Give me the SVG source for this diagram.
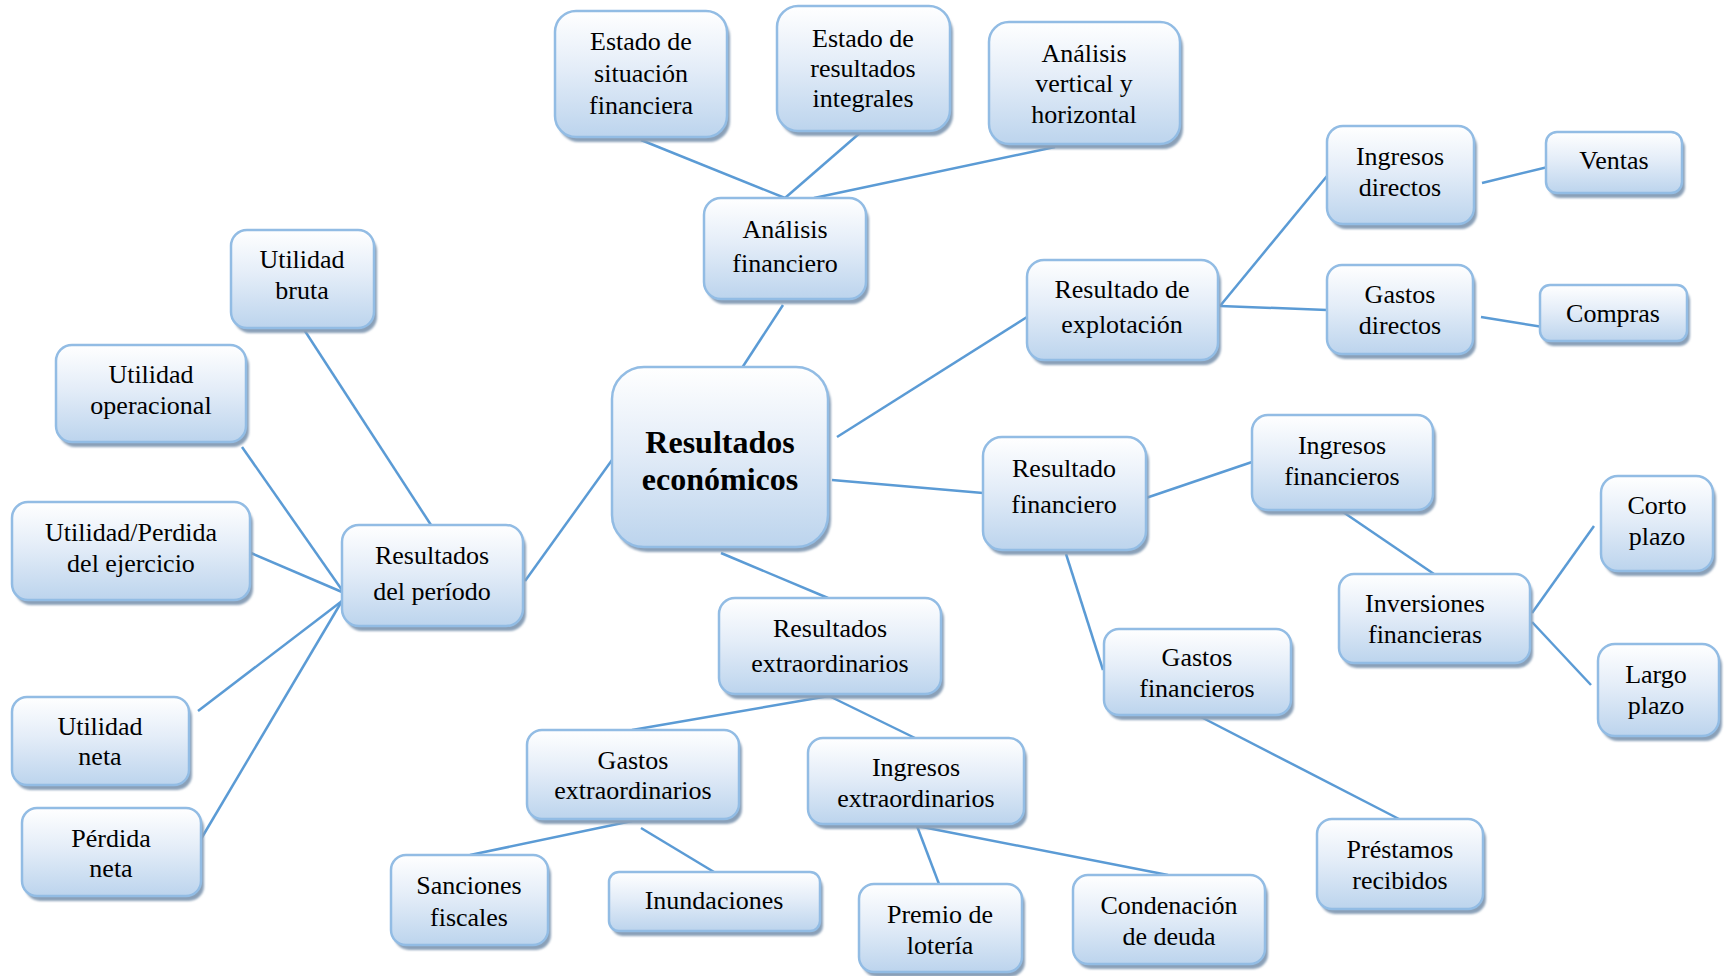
<svg xmlns="http://www.w3.org/2000/svg" width="1726" height="976" viewBox="0 0 1726 976">
  <defs>
    <linearGradient id="boxFill" x1="0" y1="0" x2="0" y2="1">
      <stop offset="0" stop-color="#ffffff"/>
      <stop offset="0.45" stop-color="#e4edf8"/>
      <stop offset="1" stop-color="#bcd4ed"/>
    </linearGradient>
    <filter id="soft" x="-5%" y="-5%" width="110%" height="110%">
      <feGaussianBlur stdDeviation="0.8"/>
    </filter>
  </defs>
  <style>
    .shadow { fill: #8aa0b8; filter: url(#soft); }
    .box { fill: url(#boxFill); stroke: #92bce4; stroke-width: 2.5; }
    .label { font-family: "Liberation Serif", "Times New Roman", serif; font-size: 26px; fill: #000000; text-anchor: middle; }
    .title { font-family: "Liberation Serif", "Times New Roman", serif; font-size: 32px; font-weight: bold; fill: #000000; text-anchor: middle; }
    .link { stroke: #5b9bd5; stroke-width: 2.5; fill: none; }
  </style>
  <rect width="1726" height="976" fill="#ffffff"/>

  <!-- connectors -->
  <g id="connectors">
    <line class="link" x1="641" y1="140" x2="785" y2="198"/>
    <line class="link" x1="861" y1="132" x2="785" y2="198"/>
    <line class="link" x1="1055" y1="147" x2="814" y2="198"/>
    <line class="link" x1="783" y1="305" x2="740" y2="371"/>
    <line class="link" x1="837" y1="437" x2="1027" y2="317"/>
    <line class="link" x1="832" y1="480" x2="983" y2="493"/>
    <line class="link" x1="721" y1="553" x2="828" y2="598"/>
    <line class="link" x1="612" y1="460" x2="525" y2="581"/>
    <line class="link" x1="431" y1="525" x2="303" y2="328"/>
    <line class="link" x1="242" y1="447" x2="342" y2="590"/>
    <line class="link" x1="251" y1="553" x2="342" y2="592"/>
    <line class="link" x1="198" y1="711" x2="342" y2="601"/>
    <line class="link" x1="201" y1="839" x2="342" y2="601"/>
    <line class="link" x1="1220" y1="306" x2="1327" y2="176"/>
    <line class="link" x1="1220" y1="306" x2="1327" y2="310"/>
    <line class="link" x1="1482" y1="183" x2="1552" y2="166"/>
    <line class="link" x1="1481" y1="317" x2="1543" y2="327"/>
    <line class="link" x1="1143" y1="499" x2="1252" y2="462"/>
    <line class="link" x1="1343" y1="512" x2="1434" y2="574"/>
    <line class="link" x1="1532" y1="613" x2="1594" y2="526"/>
    <line class="link" x1="1532" y1="622" x2="1591" y2="685"/>
    <line class="link" x1="1066" y1="554" x2="1103" y2="670"/>
    <line class="link" x1="1199" y1="716" x2="1399" y2="819"/>
    <line class="link" x1="829" y1="696" x2="632" y2="730"/>
    <line class="link" x1="829" y1="696" x2="915" y2="738"/>
    <line class="link" x1="632" y1="821" x2="470" y2="855"/>
    <line class="link" x1="641" y1="828" x2="714" y2="872"/>
    <line class="link" x1="917" y1="826" x2="939" y2="884"/>
    <line class="link" x1="917" y1="826" x2="1168" y2="875"/>
  </g>

  <!-- nodes -->
  <g id="estado-situacion">
    <rect class="shadow" x="558" y="16" width="172" height="126" rx="21"/>
    <rect class="box" x="555" y="11" width="172" height="126" rx="21"/>
    <text class="label"><tspan x="641" y="50">Estado de</tspan><tspan x="641" y="82">situación</tspan><tspan x="641" y="114">financiera</tspan></text>
  </g>
  <g id="estado-resultados">
    <rect class="shadow" x="780" y="11" width="173" height="125" rx="21"/>
    <rect class="box" x="777" y="6" width="173" height="125" rx="21"/>
    <text class="label"><tspan x="863" y="47">Estado de</tspan><tspan x="863" y="77">resultados</tspan><tspan x="863" y="107">integrales</tspan></text>
  </g>
  <g id="analisis-vertical">
    <rect class="shadow" x="992" y="27" width="191" height="122" rx="20"/>
    <rect class="box" x="989" y="22" width="191" height="122" rx="20"/>
    <text class="label"><tspan x="1084" y="62">Análisis</tspan><tspan x="1084" y="92">vertical y</tspan><tspan x="1084" y="123">horizontal</tspan></text>
  </g>
  <g id="analisis-financiero">
    <rect class="shadow" x="707" y="203" width="162" height="101" rx="17"/>
    <rect class="box" x="704" y="198" width="162" height="101" rx="17"/>
    <text class="label"><tspan x="785" y="238">Análisis</tspan><tspan x="785" y="272">financiero</tspan></text>
  </g>
  <g id="utilidad-bruta">
    <rect class="shadow" x="234" y="235" width="143" height="98" rx="16"/>
    <rect class="box" x="231" y="230" width="143" height="98" rx="16"/>
    <text class="label"><tspan x="302" y="268">Utilidad</tspan><tspan x="302" y="299">bruta</tspan></text>
  </g>
  <g id="utilidad-operacional">
    <rect class="shadow" x="59" y="350" width="190" height="97" rx="16"/>
    <rect class="box" x="56" y="345" width="190" height="97" rx="16"/>
    <text class="label"><tspan x="151" y="383">Utilidad</tspan><tspan x="151" y="414">operacional</tspan></text>
  </g>
  <g id="utilidad-perdida-ejercicio">
    <rect class="shadow" x="15" y="507" width="238" height="98" rx="16"/>
    <rect class="box" x="12" y="502" width="238" height="98" rx="16"/>
    <text class="label"><tspan x="131" y="541">Utilidad/Perdida</tspan><tspan x="131" y="572">del ejercicio</tspan></text>
  </g>
  <g id="utilidad-neta">
    <rect class="shadow" x="15" y="702" width="177" height="88" rx="15"/>
    <rect class="box" x="12" y="697" width="177" height="88" rx="15"/>
    <text class="label"><tspan x="100" y="735">Utilidad</tspan><tspan x="100" y="765">neta</tspan></text>
  </g>
  <g id="perdida-neta">
    <rect class="shadow" x="25" y="813" width="179" height="88" rx="15"/>
    <rect class="box" x="22" y="808" width="179" height="88" rx="15"/>
    <text class="label"><tspan x="111" y="847">Pérdida</tspan><tspan x="111" y="877">neta</tspan></text>
  </g>
  <g id="resultados-periodo">
    <rect class="shadow" x="345" y="530" width="181" height="101" rx="17"/>
    <rect class="box" x="342" y="525" width="181" height="101" rx="17"/>
    <text class="label"><tspan x="432" y="564">Resultados</tspan><tspan x="432" y="600">del período</tspan></text>
  </g>
  <g id="resultados-economicos">
    <rect class="shadow" x="615" y="372" width="216" height="180" rx="32"/>
    <rect class="box" x="612" y="367" width="216" height="180" rx="32"/>
    <text class="title"><tspan x="720" y="453">Resultados</tspan><tspan x="720" y="490">económicos</tspan></text>
  </g>
  <g id="resultado-explotacion">
    <rect class="shadow" x="1030" y="265" width="191" height="100" rx="17"/>
    <rect class="box" x="1027" y="260" width="191" height="100" rx="17"/>
    <text class="label"><tspan x="1122" y="298">Resultado de</tspan><tspan x="1122" y="333">explotación</tspan></text>
  </g>
  <g id="ingresos-directos">
    <rect class="shadow" x="1330" y="131" width="147" height="98" rx="16"/>
    <rect class="box" x="1327" y="126" width="147" height="98" rx="16"/>
    <text class="label"><tspan x="1400" y="165">Ingresos</tspan><tspan x="1400" y="196">directos</tspan></text>
  </g>
  <g id="ventas">
    <rect class="shadow" x="1549" y="137" width="136" height="61" rx="11"/>
    <rect class="box" x="1546" y="132" width="136" height="61" rx="11"/>
    <text class="label"><tspan x="1614" y="169">Ventas</tspan></text>
  </g>
  <g id="gastos-directos">
    <rect class="shadow" x="1330" y="270" width="146" height="89" rx="15"/>
    <rect class="box" x="1327" y="265" width="146" height="89" rx="15"/>
    <text class="label"><tspan x="1400" y="303">Gastos</tspan><tspan x="1400" y="334">directos</tspan></text>
  </g>
  <g id="compras">
    <rect class="shadow" x="1543" y="290" width="147" height="56" rx="10"/>
    <rect class="box" x="1540" y="285" width="147" height="56" rx="10"/>
    <text class="label"><tspan x="1613" y="322">Compras</tspan></text>
  </g>
  <g id="resultado-financiero">
    <rect class="shadow" x="986" y="442" width="163" height="113" rx="19"/>
    <rect class="box" x="983" y="437" width="163" height="113" rx="19"/>
    <text class="label"><tspan x="1064" y="477">Resultado</tspan><tspan x="1064" y="513">financiero</tspan></text>
  </g>
  <g id="ingresos-financieros">
    <rect class="shadow" x="1255" y="420" width="181" height="95" rx="16"/>
    <rect class="box" x="1252" y="415" width="181" height="95" rx="16"/>
    <text class="label"><tspan x="1342" y="454">Ingresos</tspan><tspan x="1342" y="485">financieros</tspan></text>
  </g>
  <g id="inversiones-financieras">
    <rect class="shadow" x="1342" y="579" width="191" height="89" rx="15"/>
    <rect class="box" x="1339" y="574" width="191" height="89" rx="15"/>
    <text class="label"><tspan x="1425" y="612">Inversiones</tspan><tspan x="1425" y="643">financieras</tspan></text>
  </g>
  <g id="corto-plazo">
    <rect class="shadow" x="1604" y="481" width="112" height="95" rx="17"/>
    <rect class="box" x="1601" y="476" width="112" height="95" rx="17"/>
    <text class="label"><tspan x="1657" y="514">Corto</tspan><tspan x="1657" y="545">plazo</tspan></text>
  </g>
  <g id="largo-plazo">
    <rect class="shadow" x="1601" y="649" width="121" height="92" rx="17"/>
    <rect class="box" x="1598" y="644" width="121" height="92" rx="17"/>
    <text class="label"><tspan x="1656" y="683">Largo</tspan><tspan x="1656" y="714">plazo</tspan></text>
  </g>
  <g id="gastos-financieros">
    <rect class="shadow" x="1107" y="634" width="187" height="86" rx="15"/>
    <rect class="box" x="1104" y="629" width="187" height="86" rx="15"/>
    <text class="label"><tspan x="1197" y="666">Gastos</tspan><tspan x="1197" y="697">financieros</tspan></text>
  </g>
  <g id="prestamos-recibidos">
    <rect class="shadow" x="1320" y="824" width="166" height="90" rx="15"/>
    <rect class="box" x="1317" y="819" width="166" height="90" rx="15"/>
    <text class="label"><tspan x="1400" y="858">Préstamos</tspan><tspan x="1400" y="889">recibidos</tspan></text>
  </g>
  <g id="resultados-extraordinarios">
    <rect class="shadow" x="722" y="603" width="222" height="96" rx="16"/>
    <rect class="box" x="719" y="598" width="222" height="96" rx="16"/>
    <text class="label"><tspan x="830" y="637">Resultados</tspan><tspan x="830" y="672">extraordinarios</tspan></text>
  </g>
  <g id="gastos-extraordinarios">
    <rect class="shadow" x="530" y="735" width="212" height="89" rx="15"/>
    <rect class="box" x="527" y="730" width="212" height="89" rx="15"/>
    <text class="label"><tspan x="633" y="769">Gastos</tspan><tspan x="633" y="799">extraordinarios</tspan></text>
  </g>
  <g id="ingresos-extraordinarios">
    <rect class="shadow" x="811" y="743" width="216" height="86" rx="15"/>
    <rect class="box" x="808" y="738" width="216" height="86" rx="15"/>
    <text class="label"><tspan x="916" y="776">Ingresos</tspan><tspan x="916" y="807">extraordinarios</tspan></text>
  </g>
  <g id="sanciones-fiscales">
    <rect class="shadow" x="394" y="860" width="157" height="90" rx="15"/>
    <rect class="box" x="391" y="855" width="157" height="90" rx="15"/>
    <text class="label"><tspan x="469" y="894">Sanciones</tspan><tspan x="469" y="926">fiscales</tspan></text>
  </g>
  <g id="inundaciones">
    <rect class="shadow" x="612" y="877" width="211" height="59" rx="10"/>
    <rect class="box" x="609" y="872" width="211" height="59" rx="10"/>
    <text class="label"><tspan x="714" y="909">Inundaciones</tspan></text>
  </g>
  <g id="premio-loteria">
    <rect class="shadow" x="862" y="889" width="163" height="88" rx="15"/>
    <rect class="box" x="859" y="884" width="163" height="88" rx="15"/>
    <text class="label"><tspan x="940" y="923">Premio de</tspan><tspan x="940" y="954">lotería</tspan></text>
  </g>
  <g id="condenacion-deuda">
    <rect class="shadow" x="1076" y="880" width="192" height="89" rx="15"/>
    <rect class="box" x="1073" y="875" width="192" height="89" rx="15"/>
    <text class="label"><tspan x="1169" y="914">Condenación</tspan><tspan x="1169" y="945">de deuda</tspan></text>
  </g>
</svg>
